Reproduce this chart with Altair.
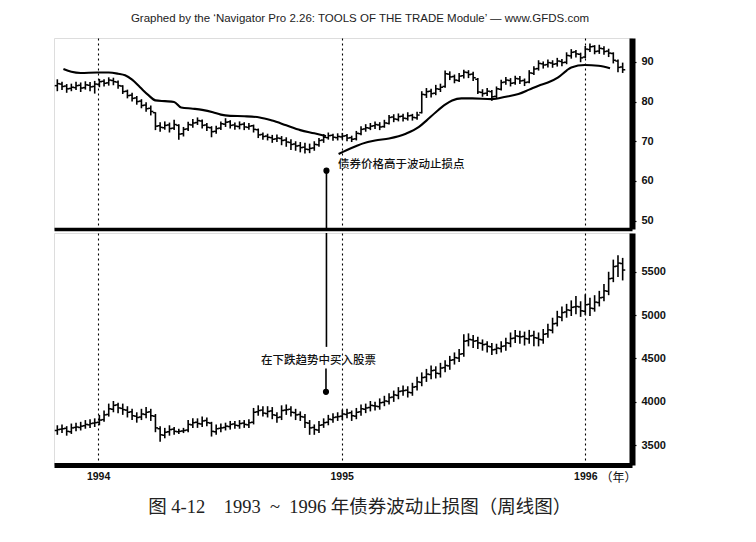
import altair as alt
import pandas as pd

WEEK0 = "1993-11-01"
N_WEEKS = 122

bond_open = [84.0, 84.4, 83.9, 83.3, 83.5, 84.1, 83.5, 84.1, 83.8, 84.3,
             85.1, 84.7, 85.3, 84.9, 83.9, 82.6, 81.6, 80.9, 80.1, 79.1,
             78.3, 77.2, 73.9, 73.4, 74.1, 73.3, 74.0, 71.9, 73.1, 74.1,
             74.7, 75.1, 74.1, 73.4, 72.5, 73.3, 74.3, 74.9, 74.1, 73.7,
             74.3, 73.5, 73.9, 72.9, 71.7, 71.3, 70.9, 70.6, 70.7, 70.3,
             69.7, 69.3, 68.9, 68.5, 67.9, 68.3, 69.1, 70.3, 70.9, 71.5,
             70.9, 71.1, 71.4, 70.9, 70.6, 71.9, 73.1, 73.3, 73.9, 74.1,
             73.7, 74.5, 76.1, 75.5, 76.3, 75.7, 76.5, 75.9, 77.2, 81.7,
             82.6, 82.1, 83.1, 83.8, 86.9, 86.3, 85.3, 86.5, 87.3, 86.9,
             85.6, 82.3, 82.1, 82.5, 81.3, 83.1, 84.9, 85.3, 84.7, 85.7,
             85.3, 84.9, 87.1, 88.3, 89.5, 89.3, 89.7, 89.5, 90.1, 89.9,
             91.5, 92.5, 91.9, 91.2, 93.1, 93.9, 92.7, 93.3, 92.7, 92.1,
             90.2, 88.7]
bond_high = [85.6, 85.0, 84.4, 84.5, 85.0, 84.8, 85.1, 84.9, 85.2, 85.7,
             85.6, 86.1, 86.0, 85.3, 84.1, 83.0, 82.2, 81.4, 80.6, 79.8,
             79.0, 77.3, 74.8, 75.0, 74.7, 75.4, 74.3, 73.6, 74.9, 75.6,
             76.0, 75.5, 74.6, 73.8, 73.9, 75.0, 75.8, 75.3, 74.7, 75.0,
             74.8, 74.6, 74.2, 73.2, 72.2, 71.9, 71.6, 71.7, 71.3, 71.0,
             70.5, 70.0, 69.8, 69.6, 69.4, 70.0, 70.8, 71.8, 72.2, 71.9,
             72.0, 72.1, 71.8, 71.4, 72.6, 73.8, 74.3, 74.6, 75.0, 74.8,
             75.4, 76.6, 76.8, 77.0, 76.9, 77.3, 76.9, 77.4, 82.6, 83.4,
             83.2, 84.2, 84.5, 87.8, 87.6, 86.8, 87.2, 88.0, 87.9, 87.5,
             85.9, 83.1, 83.4, 82.9, 83.8, 85.5, 86.2, 85.9, 86.5, 86.4,
             85.8, 87.9, 88.9, 90.4, 90.1, 90.6, 90.4, 91.0, 90.7, 92.4,
             93.2, 93.0, 92.3, 94.0, 94.6, 94.2, 94.3, 93.9, 93.3, 92.4,
             90.6, 89.8]
bond_low = [82.6, 82.9, 82.2, 82.6, 82.9, 82.4, 83.0, 82.6, 82.0, 83.6,
            83.8, 84.0, 84.1, 83.2, 81.9, 80.8, 80.0, 79.2, 78.3, 77.4,
            76.5, 72.8, 72.4, 72.9, 72.2, 72.8, 70.4, 71.2, 72.6, 73.4,
            74.1, 73.2, 72.6, 71.0, 71.9, 72.8, 73.6, 73.2, 72.9, 73.0,
            72.8, 72.9, 72.2, 70.8, 70.4, 70.2, 69.6, 69.8, 69.0, 68.6,
            67.8, 67.6, 67.2, 66.9, 67.0, 67.6, 68.6, 69.6, 70.4, 70.1,
            70.2, 70.4, 70.0, 69.8, 70.2, 71.5, 72.4, 72.8, 73.1, 72.8,
            73.4, 74.2, 74.8, 75.0, 75.0, 75.2, 75.2, 75.4, 77.0, 80.9,
            81.0, 81.6, 82.4, 83.5, 85.4, 84.6, 84.9, 85.8, 85.9, 85.2,
            81.9, 81.2, 81.4, 80.2, 80.8, 82.8, 84.2, 83.8, 84.2, 84.4,
            83.9, 84.6, 86.7, 87.8, 88.3, 88.6, 88.5, 88.8, 88.9, 89.4,
            90.8, 91.1, 89.9, 90.9, 92.5, 91.9, 92.0, 91.8, 91.2, 89.6,
            87.4, 87.2]
bond_close = [84.5, 83.8, 83.2, 83.6, 84.0, 83.4, 84.2, 83.7, 84.4, 85.0,
              84.6, 85.4, 85.0, 84.0, 82.5, 81.5, 80.8, 80.0, 79.0, 78.2,
              77.5, 73.8, 73.5, 74.0, 73.2, 74.2, 71.8, 73.0, 74.2, 74.6,
              75.2, 74.0, 73.5, 72.4, 73.2, 74.4, 74.8, 74.0, 73.8, 74.2,
              73.6, 73.8, 73.0, 71.6, 71.2, 71.0, 70.5, 70.8, 70.2, 69.8,
              69.2, 68.8, 68.4, 68.0, 68.2, 69.2, 70.2, 71.0, 71.4, 71.0,
              71.2, 71.3, 70.8, 70.5, 72.0, 73.0, 73.4, 73.8, 74.2, 73.6,
              74.6, 76.0, 75.6, 76.2, 75.8, 76.4, 76.0, 76.6, 81.8, 82.5,
              82.0, 83.2, 83.6, 87.0, 86.2, 85.4, 86.4, 87.4, 86.8, 86.0,
              82.4, 82.0, 82.6, 81.2, 83.2, 84.8, 85.4, 84.6, 85.8, 85.2,
              84.8, 87.2, 88.2, 89.6, 89.2, 89.8, 89.4, 90.2, 89.8, 91.6,
              92.4, 92.0, 91.0, 93.2, 93.8, 92.6, 93.4, 92.6, 92.2, 90.4,
              88.6, 88.0]

stock_open = [3670, 3685, 3695, 3655, 3705, 3705, 3725, 3735, 3755, 3765,
              3795, 3855, 3915, 3965, 3925, 3905, 3885, 3835, 3825, 3855,
              3885, 3835, 3690, 3615, 3655, 3685, 3655, 3665, 3675, 3735,
              3765, 3745, 3785, 3755, 3655, 3695, 3705, 3715, 3745, 3725,
              3755, 3735, 3765, 3885, 3905, 3865, 3895, 3845, 3825, 3905,
              3915, 3875, 3855, 3825, 3755, 3705, 3675, 3735, 3765, 3795,
              3825, 3835, 3855, 3875, 3835, 3885, 3915, 3935, 3955, 3945,
              3995, 4005, 4055, 4075, 4125, 4135, 4105, 4175, 4225, 4285,
              4315, 4365, 4325, 4395, 4415, 4485, 4505, 4555, 4705, 4715,
              4705, 4675, 4665, 4635, 4605, 4615, 4645, 4675, 4735, 4755,
              4755, 4725, 4765, 4735, 4715, 4785, 4825, 4905, 4975, 5035,
              5055, 5095, 5095, 5045, 5125, 5075, 5145, 5205, 5275, 5425,
              5565, 5595]
stock_high = [3730, 3740, 3720, 3750, 3760, 3770, 3790, 3800, 3810, 3850,
              3900, 3980, 4010, 3990, 3980, 3950, 3920, 3880, 3920, 3940,
              3920, 3860, 3720, 3700, 3730, 3710, 3690, 3700, 3790, 3810,
              3810, 3830, 3820, 3770, 3740, 3750, 3760, 3780, 3780, 3790,
              3790, 3800, 3930, 3960, 3950, 3950, 3940, 3880, 3960, 3970,
              3950, 3920, 3890, 3860, 3790, 3740, 3780, 3810, 3850, 3870,
              3880, 3910, 3920, 3900, 3930, 3970, 3980, 4010, 4000, 4040,
              4070, 4100, 4130, 4170, 4190, 4180, 4220, 4290, 4340, 4380,
              4420, 4410, 4450, 4480, 4530, 4570, 4610, 4780, 4790, 4770,
              4750, 4720, 4700, 4680, 4670, 4700, 4740, 4800, 4830, 4820,
              4810, 4830, 4820, 4800, 4840, 4900, 4970, 5050, 5100, 5130,
              5170, 5220, 5160, 5240, 5200, 5230, 5280, 5360, 5500, 5640,
              5690, 5660]
stock_low = [3620, 3640, 3610, 3630, 3660, 3670, 3690, 3700, 3710, 3730,
             3770, 3830, 3880, 3870, 3850, 3820, 3790, 3760, 3790, 3810,
             3780, 3650, 3540, 3580, 3610, 3620, 3630, 3640, 3650, 3700,
             3700, 3710, 3720, 3600, 3620, 3650, 3670, 3680, 3690, 3690,
             3700, 3700, 3740, 3840, 3830, 3820, 3800, 3760, 3790, 3850,
             3830, 3790, 3780, 3700, 3620, 3620, 3640, 3700, 3730, 3760,
             3780, 3790, 3810, 3780, 3800, 3840, 3870, 3890, 3900, 3910,
             3950, 3970, 4000, 4030, 4070, 4050, 4070, 4130, 4180, 4230,
             4260, 4270, 4280, 4340, 4370, 4430, 4460, 4520, 4640, 4620,
             4610, 4590, 4570, 4540, 4550, 4570, 4590, 4630, 4680, 4670,
             4650, 4670, 4640, 4640, 4670, 4740, 4790, 4870, 4930, 4970,
             4990, 5010, 4980, 5000, 4990, 5040, 5100, 5160, 5230, 5380,
             5440, 5400]
stock_close = [3680, 3690, 3660, 3700, 3710, 3720, 3740, 3750, 3760, 3790,
               3850, 3920, 3960, 3930, 3910, 3880, 3840, 3820, 3860, 3880,
               3840, 3700, 3620, 3650, 3680, 3660, 3660, 3670, 3740, 3760,
               3750, 3780, 3760, 3660, 3690, 3700, 3720, 3740, 3730, 3750,
               3740, 3760, 3880, 3900, 3870, 3890, 3850, 3820, 3900, 3910,
               3880, 3850, 3830, 3760, 3700, 3680, 3730, 3760, 3800, 3820,
               3830, 3860, 3870, 3840, 3880, 3920, 3930, 3960, 3950, 3990,
               4010, 4050, 4080, 4120, 4130, 4110, 4170, 4230, 4280, 4320,
               4360, 4330, 4390, 4420, 4480, 4510, 4550, 4700, 4720, 4700,
               4680, 4660, 4640, 4600, 4620, 4640, 4680, 4730, 4760, 4750,
               4730, 4760, 4740, 4720, 4780, 4830, 4900, 4980, 5030, 5060,
               5090, 5100, 5050, 5120, 5080, 5150, 5200, 5280, 5420, 5560,
               5600, 5520]

# volatility stop, read as (week index, value) points
stop_above_week = [1.3, 3, 5, 8.5, 11, 13, 14.5, 16, 17.7, 19.5, 21, 23, 25,
                   26.5, 29, 31, 33.3, 35, 37, 40, 43.3, 46, 49, 52, 55, 57.5]
stop_above_val = [88.2, 87.5, 87.2, 87.3, 87.3, 87.0, 86.6, 85.5, 83.6, 81.6,
                  80.3, 80.1, 79.9, 78.5, 78.2, 77.9, 77.3, 76.7, 76.4, 76.3,
                  76.0, 75.2, 74.0, 72.8, 72.0, 71.3]
stop_below_week = [60.2, 62, 64, 65.3, 68, 71, 74.6, 77.4, 79, 81, 83, 84.5,
                   86.5, 88.8, 93, 96, 98.7, 101, 103, 105, 107.2, 109, 110,
                   112.9, 115.8, 118.3]
stop_below_val = [66.8, 67.8, 68.8, 69.4, 70.2, 70.7, 71.9, 73.6, 75.2, 77.3,
                  79.2, 80.25, 80.8, 80.8, 80.6, 81.2, 81.9, 83.0, 84.0, 84.8,
                  86.1, 87.8, 88.6, 89.2, 89.0, 88.4]

bond_ticks = [50, 60, 70, 80, 90]
stock_ticks = [3500, 4000, 4500, 5000, 5500]
year_lines = [1994, 1995, 1996]
bond_domain = [47.9, 96.0]
stock_domain = [3272, 5947]

NB = "\u00a0"
title_text = "Graphed by the \u2018Navigator Pro 2.26: TOOLS OF THE TRADE Module\u2019 \u2014 www.GFDS.com"
caption_text = ("图" + NB + "4-12" + NB * 4 + "1993" + NB * 2 + "~" + NB * 2 + "1996" + NB
                + "年债券波动止损图（周线图）")
note_bond = "债券价格高于波动止损点"
note_stock = "在下跌趋势中买入股票"

# annotation anchors: (week index, value)
bond_dot = (57.6, 62.6)
bond_note_pos = (60.3, 63.9)
stock_rule = (57.6, 4634)
stock_note_pos = (55.9, 4469)
stock_short = (57.5, 4384, 4116)

# ---------------------------------------------------------------
t0 = pd.Timestamp(WEEK0)


def wk(w):
    return t0 + pd.to_timedelta(w * 7, unit="D")


dates = pd.date_range(WEEK0, periods=N_WEEKS, freq="7D")
bond_df = pd.DataFrame({"date": dates, "open": bond_open, "high": bond_high,
                        "low": bond_low, "close": bond_close})
stock_df = pd.DataFrame({"date": dates, "open": stock_open, "high": stock_high,
                         "low": stock_low, "close": stock_close})
stop_df = pd.DataFrame({
    "date": [wk(w) for w in stop_above_week] + [wk(w) for w in stop_below_week],
    "stop": stop_above_val + stop_below_val,
    "seg": ["a"] * len(stop_above_week) + ["b"] * len(stop_below_week),
})

W = 578
H_TOP = 191
H_BOT = 232

x_scale = alt.Scale(domain=[alt.DateTime(year=1993, month=10, date=27),
                            alt.DateTime(year=1996, month=3, date=11)])
grid_vals = [alt.DateTime(year=y, month=1, date=1) for y in year_lines]

LABEL_FONT = "Liberation Sans"
CJK = "Noto Sans CJK SC"


def ohlc(df, x_axis, y_scale, y_axis):
    base = alt.Chart(df)
    x = alt.X("date:T", scale=x_scale, axis=x_axis)
    rule = base.mark_rule(color="black", strokeWidth=1.6).encode(
        x=x, y=alt.Y("low:Q", scale=y_scale, axis=y_axis), y2="high:Q")
    o = base.mark_tick(orient="horizontal", color="black", size=2.6,
                       thickness=1.5, xOffset=-1.3, opacity=1).encode(
        x=alt.X("date:T", scale=x_scale), y=alt.Y("open:Q", scale=y_scale))
    c = base.mark_tick(orient="horizontal", color="black", size=2.6,
                       thickness=1.5, xOffset=1.3, opacity=1).encode(
        x=alt.X("date:T", scale=x_scale), y=alt.Y("close:Q", scale=y_scale))
    return rule + o + c


# ---------------- top panel (bonds) ----------------
bond_y_scale = alt.Scale(domain=bond_domain, nice=False, zero=False)
top_x_axis = alt.Axis(values=grid_vals, labels=False, ticks=False, grid=True,
                      gridDash=[2, 3], gridColor="black", gridWidth=1.1,
                      domainWidth=3.5, domainColor="black", title=None)
bond_y_axis = alt.Axis(orient="right", values=bond_ticks, grid=False,
                       domainWidth=6, domainColor="black", tickSize=4,
                       tickColor="black", tickWidth=1.2, labelPadding=5,
                       labelFont=LABEL_FONT, labelFontWeight="bold",
                       labelFontSize=11, labelColor="#111", title=None)

bond_bars = ohlc(bond_df, top_x_axis, bond_y_scale, bond_y_axis)
stop_line = alt.Chart(stop_df).mark_line(color="black", strokeWidth=2.1,
                                         interpolate="monotone").encode(
    x=alt.X("date:T", scale=x_scale), y=alt.Y("stop:Q", scale=bond_y_scale),
    detail="seg:N")

bond_ann = pd.DataFrame({"date": [wk(bond_dot[0])], "y": [bond_dot[1]],
                         "y2": [bond_domain[0]]})
bond_ann_rule = alt.Chart(bond_ann).mark_rule(color="black", strokeWidth=1.6).encode(
    x=alt.X("date:T", scale=x_scale), y=alt.Y("y:Q", scale=bond_y_scale), y2="y2:Q")
bond_ann_dot = alt.Chart(bond_ann).mark_circle(color="black", size=38, opacity=1).encode(
    x=alt.X("date:T", scale=x_scale), y=alt.Y("y:Q", scale=bond_y_scale))
bond_txt_df = pd.DataFrame({"date": [wk(bond_note_pos[0])], "y": [bond_note_pos[1]],
                            "t": [note_bond]})
bond_txt = alt.Chart(bond_txt_df).mark_text(
    align="left", baseline="middle", font=CJK, fontSize=11.5, fontWeight=500,
    color="#111", dx=-1).encode(
    x=alt.X("date:T", scale=x_scale), y=alt.Y("y:Q", scale=bond_y_scale), text="t:N")

top = alt.layer(bond_bars, stop_line, bond_ann_rule, bond_ann_dot, bond_txt).properties(
    width=W, height=H_TOP,
    title=alt.TitleParams(text=title_text, font=LABEL_FONT, fontSize=11.5,
                          fontWeight="normal", color="#222", anchor="middle",
                          offset=14, dx=17))

# ---------------- bottom panel (stocks) ----------------
stock_y_scale = alt.Scale(domain=stock_domain, nice=False, zero=False)
bot_x_axis = alt.Axis(values=grid_vals, format="%Y", ticks=False, grid=True,
                      gridDash=[2, 3], gridColor="black", gridWidth=1.1,
                      domainWidth=5, domainColor="black", labelPadding=6,
                      labelFont=LABEL_FONT, labelFontWeight="bold",
                      labelFontSize=10.5, labelColor="#111",
                      title="（年）", titleFont=CJK, titleFontSize=12,
                      titleFontWeight="normal", titleColor="#111",
                      titleAlign="right", titleAnchor="end", titleX=W + 4,
                      titleY=12, titleBaseline="middle")
stock_y_axis = alt.Axis(orient="right", values=stock_ticks, format="d", grid=False,
                        domainWidth=6, domainColor="black", tickSize=4,
                        tickColor="black", tickWidth=1.2, labelPadding=5,
                        labelFont=LABEL_FONT, labelFontWeight="bold",
                        labelFontSize=11, labelColor="#111", title=None)

stock_bars = ohlc(stock_df, bot_x_axis, stock_y_scale, stock_y_axis)

stock_ann = pd.DataFrame({"date": [wk(stock_rule[0])], "y": [stock_domain[1]],
                          "y2": [stock_rule[1]]})
stock_ann_rule = alt.Chart(stock_ann).mark_rule(color="black", strokeWidth=1.6).encode(
    x=alt.X("date:T", scale=x_scale), y=alt.Y("y:Q", scale=stock_y_scale), y2="y2:Q")
short_df = pd.DataFrame({"date": [wk(stock_short[0])], "y": [stock_short[1]],
                         "y2": [stock_short[2]]})
short_rule = alt.Chart(short_df).mark_rule(color="black", strokeWidth=1.6).encode(
    x=alt.X("date:T", scale=x_scale), y=alt.Y("y:Q", scale=stock_y_scale), y2="y2:Q")
short_dot = alt.Chart(short_df).mark_circle(color="black", size=38, opacity=1).encode(
    x=alt.X("date:T", scale=x_scale), y=alt.Y("y2:Q", scale=stock_y_scale))
stock_txt_df = pd.DataFrame({"date": [wk(stock_note_pos[0])], "y": [stock_note_pos[1]],
                             "t": [note_stock]})
stock_txt = alt.Chart(stock_txt_df).mark_text(
    align="center", baseline="middle", font=CJK, fontSize=11.5, fontWeight=500,
    color="#111").encode(
    x=alt.X("date:T", scale=x_scale), y=alt.Y("y:Q", scale=stock_y_scale), text="t:N")

bottom = alt.layer(stock_bars, stock_ann_rule, short_rule, short_dot, stock_txt).properties(
    width=W, height=H_BOT)

chart = alt.vconcat(top, bottom, spacing=0).properties(
    title=alt.TitleParams(text=caption_text, orient="bottom", anchor="middle",
                          font="Liberation Serif, Noto Sans CJK SC", fontSize=18.5,
                          fontWeight="normal", color="#222", offset=14),
    padding={"left": 45, "top": 4, "right": 5, "bottom": 5},
).configure_view(stroke="black", strokeWidth=1.2).configure(background="white")

chart.save("out.html", embed_options={"renderer": "svg", "actions": False})
